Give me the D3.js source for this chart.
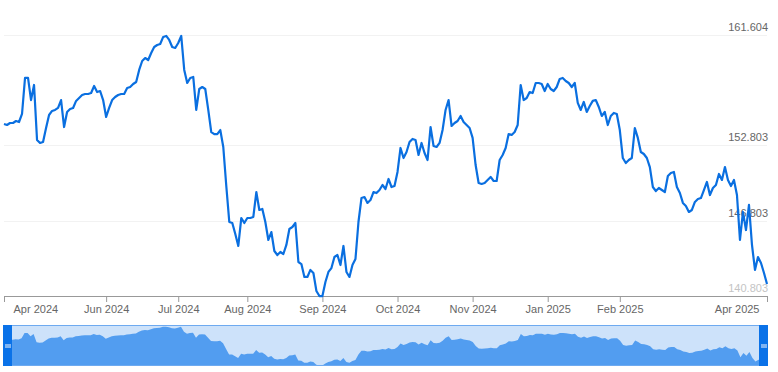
<!DOCTYPE html>
<html>
<head>
<meta charset="utf-8">
<script src="https://cdn.jsdelivr.net/npm/d3@7"></script>
<style>
  body { margin: 0; background: #fff; }
  text { font-family: "Liberation Sans", Arial, sans-serif; }
</style>
</head>
<body>
<div id="chart"></div>
<script>

  // daily closing values
  var prices = [
    154.51, 154.43, 154.59, 154.59, 154.75, 154.67, 155.31, 158.18, 158.18, 156.42,
    157.62, 153.24, 153.00, 153.08, 154.19, 155.23, 155.55, 155.63, 155.79, 156.42,
    154.27, 155.47, 155.71, 155.79, 156.35, 156.58, 156.82, 156.90, 156.90, 156.98,
    157.54, 157.06, 157.14, 156.42, 155.07, 155.79, 156.42, 156.66, 156.82, 156.90,
    156.90, 157.38, 157.46, 157.70, 157.86, 158.82, 159.53, 159.77, 159.61, 160.17,
    160.65, 160.81, 160.89, 161.45, 161.53, 161.21, 160.65, 160.57, 160.97, 161.53,
    158.82, 157.78, 158.18, 158.26, 155.63, 157.30, 157.46, 157.30, 155.63, 153.87,
    153.71, 153.71, 154.03, 152.68, 149.57, 146.70, 146.62, 145.74, 144.79, 147.02,
    146.62, 147.02, 147.02, 147.10, 149.09, 147.66, 147.74, 146.70, 145.27, 145.90,
    144.39, 144.07, 144.31, 144.15, 144.87, 146.14, 146.30, 146.62, 143.51, 143.35,
    142.32, 142.32, 142.88, 142.64, 141.20, 140.80, 140.80, 141.92, 142.72, 143.03,
    143.91, 144.07, 143.27, 144.79, 142.72, 142.32, 143.27, 143.75, 146.70, 148.61,
    148.69, 148.22, 148.45, 149.09, 149.01, 149.25, 149.65, 149.33, 150.13, 149.49,
    149.57, 150.69, 152.60, 151.80, 152.28, 153.08, 153.32, 153.24, 152.04, 153.00,
    152.20, 151.64, 154.27, 152.76, 152.68, 153.00, 154.03, 155.63, 156.42, 154.35,
    154.59, 154.75, 155.15, 154.67, 154.43, 154.19, 153.40, 151.24, 149.81, 149.73,
    149.81, 150.05, 150.29, 149.97, 149.97, 151.64, 152.04, 152.60, 153.71, 153.64,
    153.87, 154.43, 157.62, 156.42, 156.58, 157.06, 156.98, 157.78, 157.78, 157.70,
    157.14, 157.70, 157.30, 157.14, 157.46, 158.10, 158.18, 157.94, 157.78, 157.46,
    157.78, 156.19, 155.63, 156.27, 155.47, 155.95, 156.35, 156.42, 155.87, 155.15,
    155.47, 154.43, 155.15, 155.39, 155.31, 154.03, 151.80, 151.40, 151.64, 151.80,
    154.19, 153.40, 152.28, 152.12, 151.80, 151.08, 149.49, 149.17, 149.41, 149.25,
    149.09, 150.37, 150.61, 150.69, 149.49, 149.01, 148.22, 147.98, 147.50, 147.66,
    148.30, 148.53, 148.61, 149.25, 149.89, 148.85, 149.41, 149.65, 150.53, 150.05,
    151.08, 150.05, 149.57, 150.05, 148.85, 145.27, 147.50, 146.06, 148.06, 144.87,
    142.88, 143.91, 143.43, 142.64, 141.76
  ]

  // x axis ticks (index into prices) and their labels
  var tickIndex = [0, 34, 58, 81, 106, 131, 156, 181, 205, 254]
  var tickLabels = ["Apr 2024", "Jun 2024", "Jul 2024", "Aug 2024", "Sep 2024",
                    "Oct 2024", "Nov 2024", "Jan 2025", "Feb 2025", "Apr 2025"]

  // y axis ticks
  var yTicks = [140.803, 146.803, 152.803, 161.604]

  var width = 778, height = 372

  var svg = d3.select("#chart").append("svg")
      .attr("width", width)
      .attr("height", height)

  // scales
  var xScale = d3.scaleLinear()
      .domain([0, prices.length - 1])
      .range([4, 767])

  var yScale = d3.scaleLinear()
      .domain([yTicks[0], yTicks[yTicks.length - 1]])
      .range([296, 35])

  var navX = d3.scaleLinear()
      .domain([0, prices.length - 1])
      .range([3.5, 767.5])

  var navY = d3.scaleLinear()
      .domain([yTicks[0], yTicks[yTicks.length - 1]])
      .range([365.5, 326.5])

  // grid lines
  svg.selectAll(".grid")
      .data(yTicks.slice(1))
    .enter().append("line")
      .attr("class", "grid")
      .attr("x1", 4)
      .attr("x2", 767)
      .attr("y1", function(d) { return Math.round(yScale(d)) + 0.5; })
      .attr("y2", function(d) { return Math.round(yScale(d)) + 0.5; })
      .style("stroke", "#f2f2f2")
      .style("stroke-width", 1)

  // y labels sit right above their grid line
  svg.selectAll(".ylabel")
      .data(yTicks)
    .enter().append("text")
      .attr("class", "ylabel")
      .attr("x", 768)
      .attr("y", function(d) { return Math.round(yScale(d)) - 4; })
      .style("text-anchor", "end")
      .style("font-size", "11px")
      .style("fill", function(d, i) { return i == 0 ? "#c4c4c4" : "#666"; })
      .text(function(d) { return d3.format(".3f")(d); })

  // x axis
  var xAxis = d3.axisBottom(xScale)
      .tickValues(tickIndex)
      .tickSize(6)
      .tickSizeOuter(0)
      .tickFormat(function(d, i) { return tickLabels[i]; })

  var gx = svg.append("g")
      .attr("class", "x axis")
      .attr("transform", "translate(0,296)")
      .call(xAxis)

  gx.select(".domain").style("stroke", "#999")
  gx.selectAll(".tick line").style("stroke", "#999")
  gx.selectAll(".tick text")
      .attr("y", 9)
      .attr("dy", "0.71em")
      .style("font-size", "11px")
      .style("font-family", "\"Liberation Sans\", Arial, sans-serif")
      .style("fill", "#666")

  // keep the edge labels inside the plot
  gx.selectAll(".tick text")
      .filter(function(d, i) { return i == 0; })
      .style("text-anchor", "start")
      .attr("x", 9)
  gx.selectAll(".tick text")
      .filter(function(d, i) { return i == tickIndex.length - 1; })
      .style("text-anchor", "end")
      .attr("x", -8)

  // price line
  var line = d3.line()
      .x(function(d, i) { return xScale(i); })
      .y(function(d) { return yScale(d); })

  svg.append("path")
      .datum(prices)
      .attr("d", line)
      .style("fill", "none")
      .style("stroke", "#0a6fe0")
      .style("stroke-width", 2.2)
      .style("stroke-linejoin", "round")

  // navigator
  svg.append("rect")
      .attr("x", 3.5)
      .attr("y", 325.5)
      .attr("width", 764)
      .attr("height", 40)
      .style("fill", "#cde2fa")

  var area = d3.area()
      .x(function(d, i) { return navX(i); })
      .y0(365.5)
      .y1(function(d) { return navY(d); })

  svg.append("path")
      .datum(prices)
      .attr("d", area)
      .style("fill", "#529df0")

  svg.append("rect")
      .attr("x", 3.5)
      .attr("y", 325.5)
      .attr("width", 764)
      .attr("height", 40)
      .style("fill", "none")
      .style("stroke", "#6eaaf0")

  // handles
  var handles = [3, 759]
  svg.selectAll(".handle")
      .data(handles)
    .enter().append("rect")
      .attr("class", "handle")
      .attr("x", function(d) { return d; })
      .attr("y", 325)
      .attr("width", 9)
      .attr("height", 41)
      .style("fill", "#0a72e8")

  svg.selectAll(".grip")
      .data(handles)
    .enter().append("rect")
      .attr("class", "grip")
      .attr("x", function(d) { return d + 2; })
      .attr("y", 344)
      .attr("width", 6)
      .attr("height", 4)
      .style("fill", "#7fb4f2")

</script>
</body>
</html>
